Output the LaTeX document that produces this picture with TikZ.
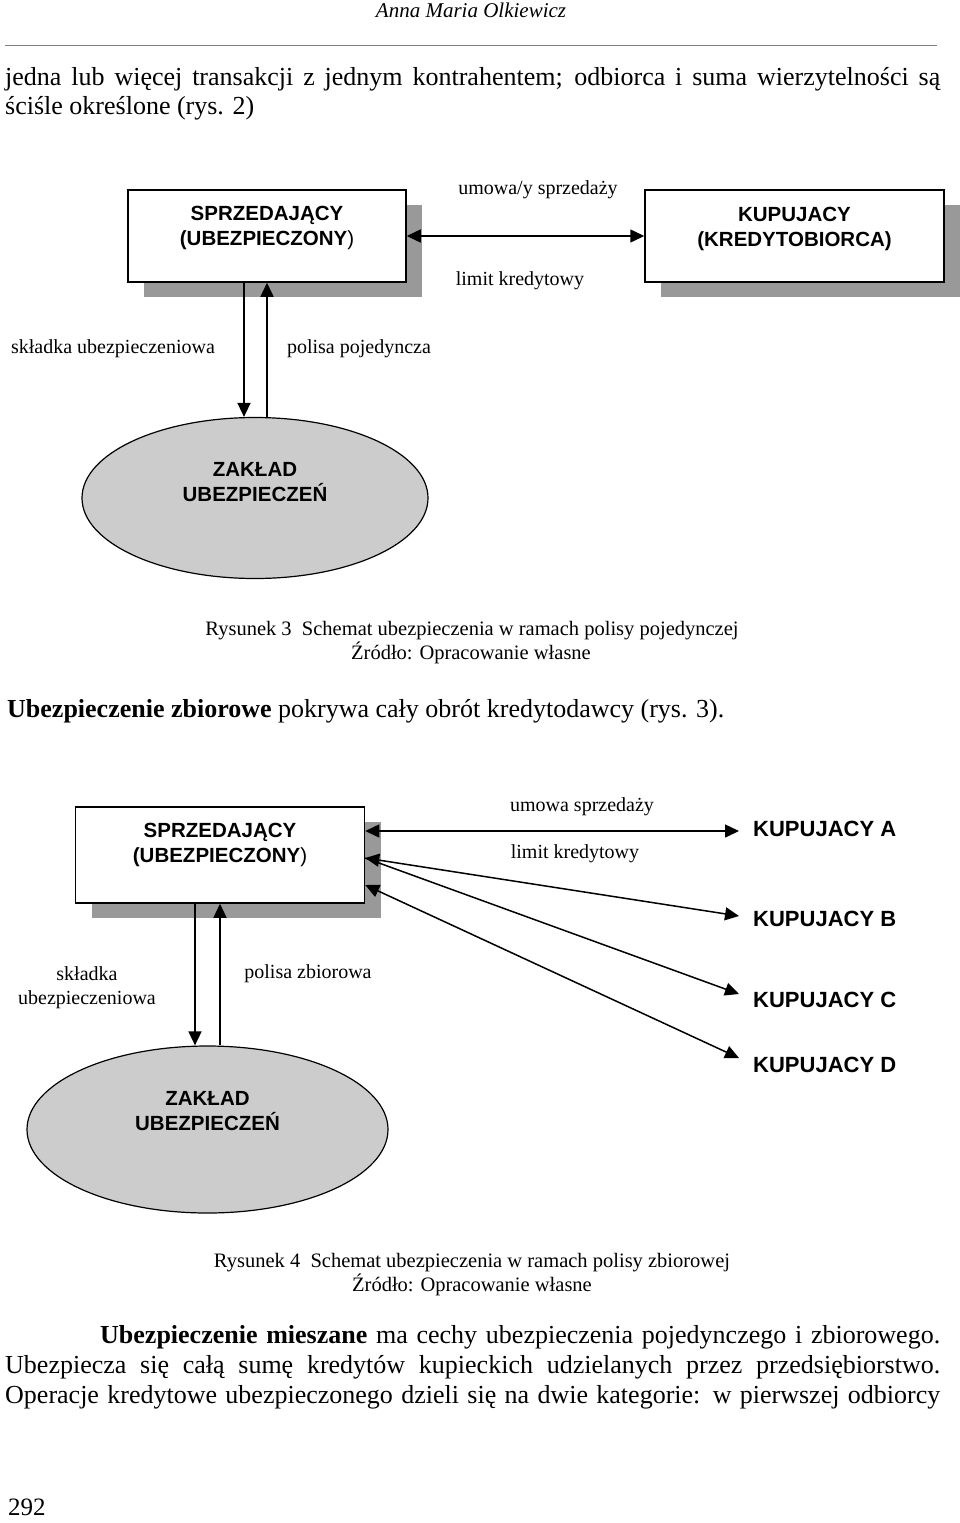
\documentclass[tikz,border=0pt]{standalone}
\usepackage{fontspec}
\setmainfont{Liberation Serif}
\setsansfont{Liberation Sans}
\usetikzlibrary{arrows.meta,shapes.geometric,shadows,positioning}

\definecolor{shadowgray}{gray}{0.6}
\definecolor{ovalgray}{gray}{0.8}

\tikzset{
	party/.style={draw=black,line width=1.5pt,fill=white,
		drop shadow={shadow xshift=16pt,shadow yshift=-15pt,fill=shadowgray,opacity=1}},
	insurer/.style={ellipse,draw=black,line width=1.2pt,fill=ovalgray},
	partytxt/.style={font=\sffamily\bfseries\fontsize{20.5}{25}\selectfont,align=center},
	buyer/.style={font=\sffamily\bfseries\fontsize{22}{25}\selectfont,anchor=west,
		text height=1.05em,text depth=.05em},
	lbl/.style={font=\fontsize{20}{24}\selectfont,text height=1.15em,text depth=.1em},
	caption/.style={font=\fontsize{20.5}{24}\selectfont,text height=1.15em,text depth=.1em},
	body/.style={font=\fontsize{26}{30}\selectfont,anchor=west,text height=1.15em,text depth=.1em},
	link/.style={line width=1.5pt}
}

\begin{document}
\begin{tikzpicture}[x=1pt,y=-1pt,>={Triangle[length=14pt,width=13pt]},
	every node/.style={inner sep=0pt}]
	\useasboundingbox (0,0) rectangle (960,1523);

	% naglowek strony
	\node[lbl,font=\fontsize{21}{25}\selectfont\itshape] (autor) at (471,12) {Anna Maria Olkiewicz};
	\draw[gray,line width=0.8pt] (5,45) -- (937,45);

	\node[body] (tekst1) at (5,80) {\makebox[935pt][s]{jedna lub więcej transakcji z jednym kontrahentem; odbiorca i suma wierzytelności są}};
	\node[body] (tekst2) at (5,109) {ściśle określone (rys. 2)};

	% rysunek 3 - polisa pojedyncza
	\node[party,minimum width=278pt,minimum height=92pt] (sprz1) at (267,236) {};
	\node[partytxt] (sprz1txt) at ([yshift=8pt]sprz1.center) {SPRZEDAJĄCY\\(UBEZPIECZONY{\mdseries)}};
	\node[party,minimum width=299pt,minimum height=92pt] (kup1) at (794.5,236) {};
	\node[partytxt] (kup1txt) at ([yshift=7pt]kup1.center) {KUPUJACY\\(KREDYTOBIORCA)};

	\draw[link,<->] (sprz1) -- (kup1);
	\node[lbl] (umowa1) at (538,189) {umowa/y sprzedaży};
	\node[lbl] (limit1) at (520,280) {limit kredytowy};

	\node[insurer,minimum width=346pt,minimum height=161pt] (zak1) at (255,498) {};
	\node[partytxt] (zak1txt) at ([yshift=16pt]zak1.center) {ZAKŁAD\\UBEZPIECZEŃ};

	\draw[link,->] ([xshift=-23pt]sprz1.south) -- ([xshift=-23pt]sprz1.south |- zak1.north);
	\draw[link,<-] (sprz1.south) -- (sprz1.south |- zak1.north);
	\node[lbl] (skladka1) at (113,348) {składka ubezpieczeniowa};
	\node[lbl] (polisa1) at (359,348) {polisa pojedyncza};

	\node[caption] (rys3) at (472,630) {Rysunek 3\enspace Schemat ubezpieczenia w ramach polisy pojedynczej};
	\node[caption] (zrodlo3) at (471,654) {Źródło: Opracowanie własne};

	\node[body] (zbiorowe) at (7,712) {\textbf{Ubezpieczenie zbiorowe} pokrywa cały obrót kredytodawcy (rys. 3).};

	% rysunek 4 - polisa zbiorowa
	\node[party,minimum width=289pt,minimum height=96pt] (sprz2) at (220,855) {};
	\node[partytxt] (sprz2txt) at ([yshift=10pt]sprz2.center) {SPRZEDAJĄCY\\(UBEZPIECZONY{\mdseries)}};

	\foreach \k/\y in {A/831,B/921,C/1002,D/1067}
		\node[buyer] (kup\k) at (753,\y) {KUPUJACY \k};

	\draw[link,<->] (kupA.west -| sprz2.east) -- ([xshift=-14pt]kupA.west);
	\draw[link,<->] ([yshift=-3pt]sprz2.east) -- ([xshift=-14pt,yshift=5pt]kupB.west);
	\draw[link,->] ([yshift=-3pt]sprz2.east) -- ([xshift=-14pt,yshift=8pt]kupC.west);
	\draw[link,<->] ([yshift=-30pt]sprz2.east) -- ([xshift=-14pt,yshift=9pt]kupD.west);
	\node[lbl] (umowa2) at (582,806) {umowa sprzedaży};
	\node[lbl] (limit2) at (575,853) {limit kredytowy};

	\node[insurer,minimum width=361pt,minimum height=167pt] (zak2) at (207.5,1129.5) {};
	\node[partytxt] (zak2txt) at ([yshift=18pt]zak2.center) {ZAKŁAD\\UBEZPIECZEŃ};

	\draw[link,->] ([xshift=-25pt]sprz2.south) -- ([xshift=-25pt]sprz2.south |- zak2.north);
	\draw[link,<-] (sprz2.south) -- (sprz2.south |- zak2.north);
	\node[lbl,align=center,text height=,text depth=] (skladka2) at (87,988) {składka\\ubezpieczeniowa};
	\node[lbl] (polisa2) at (308,973) {polisa zbiorowa};

	\node[caption] (rys4) at (472,1262) {Rysunek 4\enspace Schemat ubezpieczenia w ramach polisy zbiorowej};
	\node[caption] (zrodlo4) at (472,1286) {Źródło: Opracowanie własne};

	\node[body] (mieszane1) at (100,1338) {\makebox[840pt][s]{\textbf{Ubezpieczenie mieszane} ma cechy ubezpieczenia pojedynczego i zbiorowego.}};
	\node[body] (mieszane2) at (5,1368) {\makebox[935pt][s]{Ubezpiecza się całą sumę kredytów kupieckich udzielanych przez przedsiębiorstwo.}};
	\node[body] (mieszane3) at (5,1398) {\makebox[935pt][s]{Operacje kredytowe ubezpieczonego dzieli się na dwie kategorie: w pierwszej odbiorcy}};

	\node[body,font=\fontsize{25}{30}\selectfont] (strona) at (8,1510) {292};
\end{tikzpicture}
\end{document}
